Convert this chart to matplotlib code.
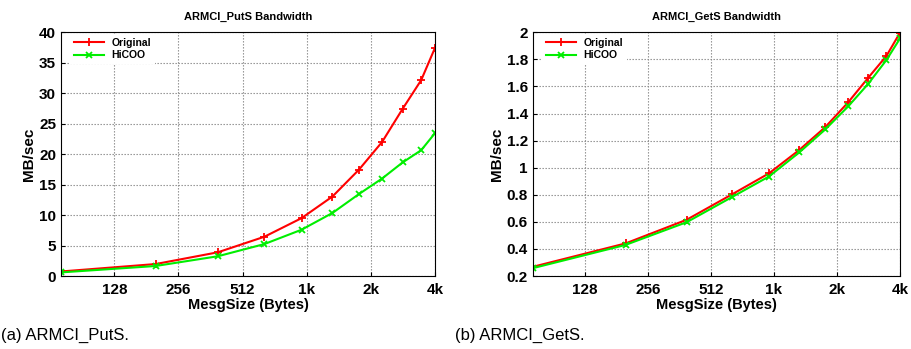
import numpy as np
import matplotlib
matplotlib.use('Agg')
import matplotlib.pyplot as plt

# message sizes (bytes)
sizes = [72, 200, 392, 648, 968, 1352, 1800, 2312, 2888, 3528, 4096]

puts_original = [0.75, 1.97, 3.9, 6.45, 9.5, 13.05, 17.45, 22.0, 27.45, 32.15, 37.45]
puts_hicoo = [0.6, 1.65, 3.25, 5.25, 7.6, 10.35, 13.45, 16.0, 18.65, 20.65, 23.45]

gets_original = [0.268, 0.441, 0.616, 0.805, 0.958, 1.131, 1.300, 1.482, 1.665, 1.826, 1.998]
gets_hicoo = [0.258, 0.430, 0.598, 0.785, 0.935, 1.113, 1.283, 1.452, 1.620, 1.796, 1.955]

xticks = [128, 256, 512, 1024, 2048, 4096]
xticklabels = ['128', '256', '512', '1k', '2k', '4k']

plt.rcParams['font.family'] = ['Liberation Sans', 'DejaVu Sans']
plt.rcParams['font.weight'] = 'bold'

fig = plt.figure(figsize=(9.11, 3.49), dpi=100)
ax1 = fig.add_axes([0.067, 0.209, 0.4105, 0.6985])
ax2 = fig.add_axes([0.5847, 0.209, 0.4033, 0.6985])


def draw(ax, orig, hicoo, title, yticks, ylim):
    ax.set_axisbelow(True)
    ax.grid(True, color='#888888', linestyle=(0, (1.2, 1.5)), linewidth=0.8)
    ax.plot(sizes, orig, color='#ff0000', marker='+', markersize=6,
            markeredgewidth=1.3, linewidth=1.5, label='Original')
    ax.plot(sizes, hicoo, color='#00ee00', marker='x', markersize=5,
            markeredgewidth=1.3, linewidth=1.5, label='HiCOO')
    ax.set_xscale('log', base=2)
    ax.set_xlim(72, 4096)
    ax.set_ylim(*ylim)
    ax.set_xticks(xticks)
    ax.set_xticklabels(xticklabels)
    ax.minorticks_off()
    ax.set_yticks(yticks)
    ax.set_yticklabels(['{:g}'.format(round(v, 2)) for v in yticks])
    ax.tick_params(direction='in', length=3, labelsize=11)
    ax.tick_params(axis='x', pad=5)
    for lab in ax.get_xticklabels() + ax.get_yticklabels():
        lab.set_fontweight('bold')
    ax.set_title(title, fontsize=8, fontweight='bold', pad=9)
    ax.set_xlabel('MesgSize (Bytes)', fontsize=10.5, fontweight='bold', labelpad=1)
    ax.set_ylabel('MB/sec', fontsize=11, fontweight='bold', labelpad=2)
    leg = ax.legend(loc='upper left', bbox_to_anchor=(0.024, 0.995),
                    fontsize=7.5, handlelength=2.9, borderpad=0.4,
                    borderaxespad=0, labelspacing=0.25, handletextpad=0.7,
                    fancybox=False, framealpha=1.0)
    leg.get_frame().set_edgecolor('none')
    for t in leg.get_texts():
        t.set_fontweight('bold')


draw(ax1, puts_original, puts_hicoo, 'ARMCI_PutS Bandwidth',
     np.arange(0, 41, 5), (0, 40))
draw(ax2, gets_original, gets_hicoo, 'ARMCI_GetS Bandwidth',
     np.round(np.arange(0.2, 2.01, 0.2), 1), (0.2, 2.0))

fig.text(0.001, 0.025, '(a) ARMCI_PutS.', fontsize=12, fontweight='normal')
fig.text(0.4995, 0.025, '(b) ARMCI_GetS.', fontsize=12, fontweight='normal')

fig.savefig('out.png', dpi=100)
